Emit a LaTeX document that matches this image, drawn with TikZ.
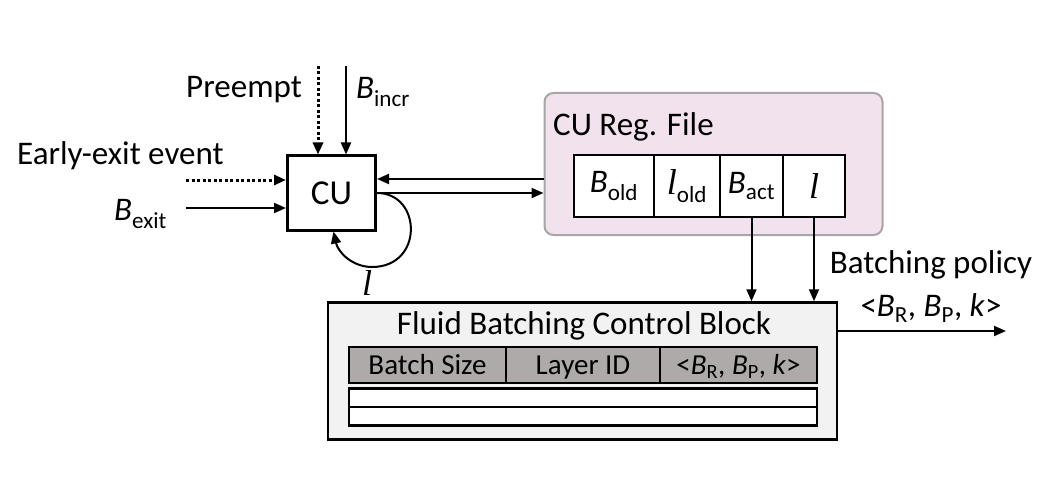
\documentclass[tikz,border=0pt]{standalone}
\usepackage{fontspec}
\setmainfont{Carlito}
\newfontfamily\lfont{Liberation Serif}
\usetikzlibrary{arrows.meta}
\definecolor{regfill}{RGB}{242,226,238}
\definecolor{regborder}{RGB}{166,166,166}
\definecolor{fbfill}{RGB}{242,242,242}
\definecolor{hdrfill}{RGB}{174,170,170}
\newcommand{\ib}{\textit{B}}
\newcommand{\myell}{{\lfont\itshape l}}
\begin{document}
\begin{tikzpicture}[x=1pt,y=-1pt,
  font=\fontsize{33}{38}\selectfont,
  arr/.style={line width=2pt,-{Triangle[length=12pt,width=10pt]}},
  dotarr/.style={line width=3pt,dash pattern=on 3pt off 2.5pt,-{Triangle[length=12pt,width=10pt]}},
  cell/.style={draw,line width=2pt,fill=white,inner sep=0pt,minimum height=62pt},
  hcell/.style={draw,line width=2.5pt,fill=hdrfill,inner sep=0pt,minimum height=36pt,text height=22pt,text depth=4pt,font=\fontsize{29}{32}\selectfont},
  rowbox/.style={draw,line width=2.5pt,fill=white,inner sep=0pt,minimum width=468pt,minimum height=18.5pt},
  lbl/.style={inner sep=0pt}]
\useasboundingbox (0,0) rectangle (1044,500);

% CU
\node[draw,line width=3pt,fill=white,minimum width=88pt,minimum height=74pt,inner sep=0pt,font=\fontsize{35}{40}\selectfont] (cu) at (331.5,193) {CU};

% Register file
\node[draw=regborder,line width=2pt,fill=regfill,rounded corners=9pt,minimum width=338pt,minimum height=142pt,inner sep=0pt] (reg) at (713.5,164) {};
\node[lbl,anchor=west] (regt) at (553,127) {CU Reg. File};
\node[cell,minimum width=80pt] (bold) at (614,186) {\ib\textsubscript{old}};
\node[cell,minimum width=66pt] (lold) at (687,186) {\fontsize{36}{40}\selectfont\myell\fontsize{33}{38}\selectfont\textsubscript{old}};
\node[cell,minimum width=63pt] (bact) at (751.5,186) {\ib\textsubscript{act}};
\node[cell,minimum width=62pt] (lreg) at (814,186) {\fontsize{36}{40}\selectfont\myell};

% Fluid batching control block
\node[draw,line width=2.5pt,fill=fbfill,minimum width=509pt,minimum height=137pt,inner sep=0pt] (fb) at (582.5,371) {};
\node[lbl] (fbt) at (584,326) {Fluid Batching Control Block};
\node[hcell,minimum width=157pt] (bs) at (427.5,365) {Batch Size};
\node[hcell,minimum width=154pt] (lid) at (583,365) {Layer ID};
\node[hcell,minimum width=157pt] (pol) at (738.5,365) {<\ib\textsubscript{R}, \ib\textsubscript{P}, \textit{k}>};
\node[rowbox] (r1) at (583,397.5) {};
\node[rowbox] (r2) at (583,416) {};

% Inputs to CU
\coordinate (pre) at (318,66);
\coordinate (inc) at (346,66);
\coordinate (ee) at (186,180);
\coordinate (bx) at (186,208);
\draw[dotarr] (pre) -- (pre |- cu.north);
\draw[arr] (inc) -- (inc |- cu.north);
\draw[dotarr] (ee) -- (ee -| cu.west);
\draw[arr] (bx) -- (bx -| cu.west);
\node[lbl,anchor=east] (prel) at (302,90) {Preempt};
\node[lbl,anchor=west] (incl) at (356,92) {\ib\textsubscript{incr}};
\node[lbl,anchor=west] (eel) at (17,156) {Early-exit event};
\node[lbl,anchor=west] (bxl) at (114,214) {\ib\textsubscript{exit}};

% CU <-> register file
\draw[arr] ([yshift=14pt]cu.east -| reg.west) -- ([yshift=14pt]cu.east);
\draw[arr] (cu.east) -- (cu.east -| reg.west);

% self loop
\coordinate (lb) at (372,267);
\draw[arr] (cu.east) .. controls (422,193) and (424,267) .. (lb) .. controls (352,267) and (338,252) .. ([xshift=2pt]cu.south);
\node[lbl] (ll) at (367,283) {\fontsize{36}{40}\selectfont\myell};

% register to fluid block
\draw[arr] (bact.south) -- (bact.south |- fb.north);
\draw[arr] (lreg.south) -- (lreg.south |- fb.north);

% output
\coordinate (oe) at (1006,331);
\draw[arr] (fb.east |- oe) -- (oe);
\node[lbl] (bp) at (931,265) {Batching policy};
\node[lbl] (bpv) at (931,308) {<\ib\textsubscript{R}, \ib\textsubscript{P}, \textit{k}>};
\end{tikzpicture}
\end{document}
